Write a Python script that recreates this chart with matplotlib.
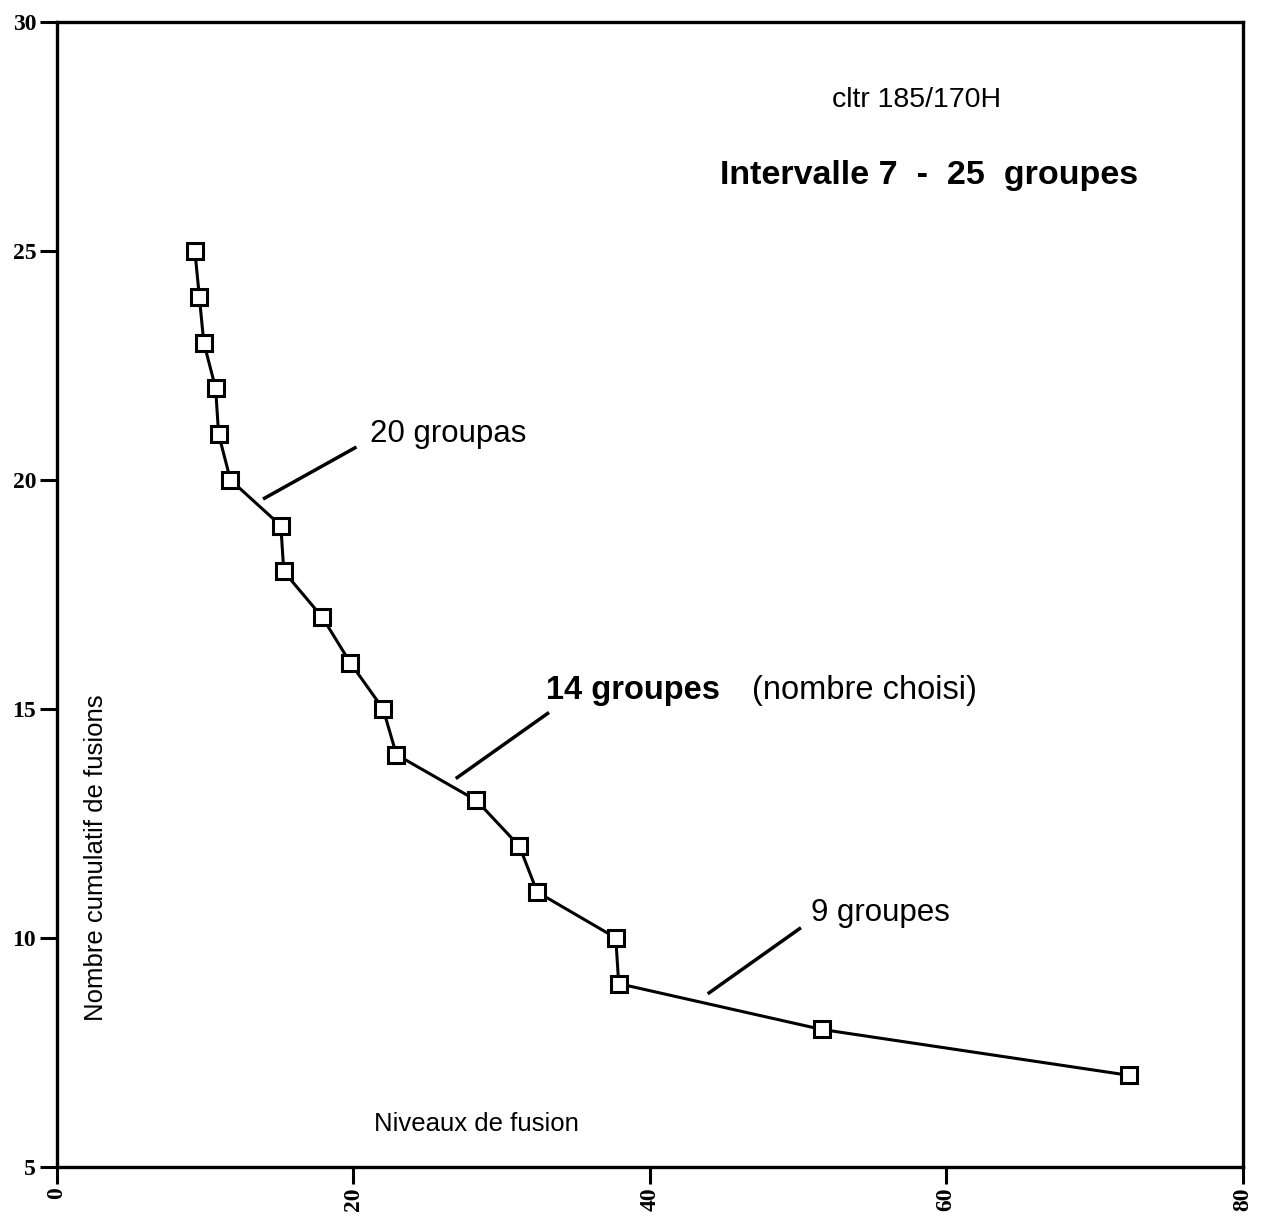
import matplotlib
matplotlib.use("Agg")
import matplotlib.pyplot as plt

# data #######################################################################
niveaux = [9.3, 9.6, 9.9, 10.7, 10.9, 11.7, 15.1, 15.3, 17.9, 19.8,
           22.0, 22.9, 28.3, 31.2, 32.4, 37.7, 37.9, 51.6, 72.3]
fusions = [25, 24, 23, 22, 21, 20, 19, 18, 17, 16,
           15, 14, 13, 12, 11, 10, 9, 8, 7]

x_ticks = [0, 20, 40, 60, 80]
y_ticks = [5, 10, 15, 20, 25, 30]

# annotation pointers (start, end) in data units
pointers = [((14.0, 19.6), (20.1, 20.7)),
            ((27.0, 13.5), (33.1, 14.9)),
            ((44.0, 8.8), (50.1, 10.2))]

##############################################################################

plt.rcParams['font.family'] = ['Liberation Sans', 'DejaVu Sans']

fig = plt.figure(figsize=(12.68, 12.18), dpi=100)
ax = fig.add_axes([0.045, 0.042, 0.935, 0.940])

ax.plot(niveaux, fusions, color="black", lw=2.2, marker="s", ms=11,
        mfc="white", mec="black", mew=2.2, zorder=3)

for (x0, y0), (x1, y1) in pointers:
    ax.plot([x0, x1], [y0, y1], color="black", lw=2.5)

ax.text(21.1, 21.0, "20 groupas", fontsize=22.5, va="center", ha="left")
ax.text(33.0, 15.4, "14 groupes", fontsize=23.5, fontweight="bold",
        va="center", ha="left")
ax.text(46.9, 15.4, "(nombre choisi)", fontsize=23.5, va="center", ha="left")
ax.text(50.9, 10.55, "9 groupes", fontsize=22.5, va="center", ha="left")
ax.text(58.0, 28.3, "cltr 185/170H", fontsize=20.5, va="center", ha="center")
ax.text(44.7, 26.65, "Intervalle 7  -  25  groupes", fontsize=24.5,
        fontweight="bold", va="center", ha="left")
ax.text(21.4, 5.93, "Niveaux de fusion", fontsize=18.5, va="center", ha="left")
ax.text(2.6, 11.75, "Nombre cumulatif de fusions", fontsize=18.5,
        rotation=90, va="center", ha="center")

ax.set_xlim(0, 80)
ax.set_ylim(5, 30)
ax.set_xticks(x_ticks)
ax.set_yticks(y_ticks)
ax.set_xticklabels([str(v) for v in x_ticks], rotation=90,
                   family="Liberation Serif", fontsize=17, fontweight="bold")
ax.set_yticklabels([str(v) for v in y_ticks],
                   family="Liberation Serif", fontsize=17, fontweight="bold")
ax.tick_params(direction="out", length=12, width=2.2, pad=3)

for side in ax.spines.values():
    side.set_linewidth(2.4)

fig.savefig("out.png", dpi=100)
